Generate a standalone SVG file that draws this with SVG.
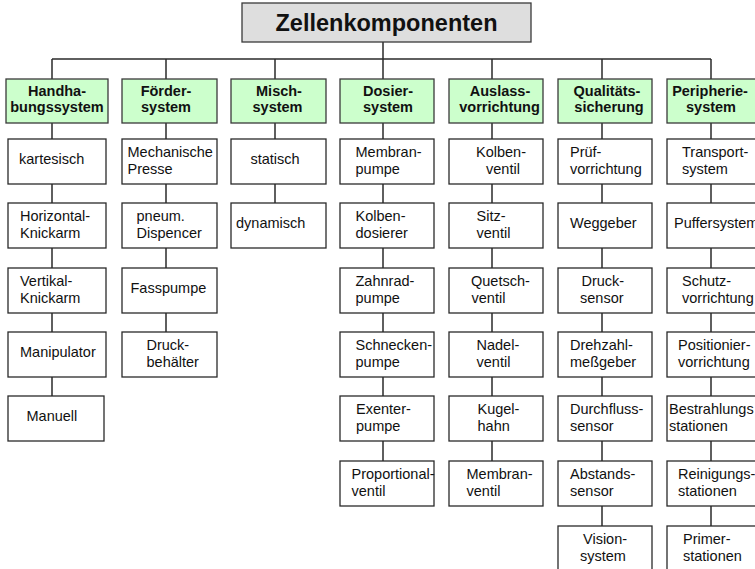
<svg xmlns="http://www.w3.org/2000/svg" width="755" height="569" viewBox="0 0 755 569">
  <style>
    .bg { fill: #ffffff; }
    .title rect { fill: #dedede; stroke: #3a3a3a; stroke-width: 1.3; }
    .title text { font-family: "Liberation Sans", Arial, sans-serif; font-weight: bold; font-size: 23.5px; fill: #111; text-anchor: middle; }
    .cat rect { fill: #ccffcc; stroke: #3a3a3a; stroke-width: 1.3; }
    .cat text { font-family: "Liberation Sans", Arial, sans-serif; font-weight: bold; font-size: 14.5px; fill: #111; text-anchor: middle; }
    .item rect { fill: #ffffff; stroke: #2a2a2a; stroke-width: 1.3; }
    .item text { font-family: "Liberation Sans", Arial, sans-serif; font-size: 14.5px; fill: #111; }
    #connectors line { stroke: #2a2a2a; stroke-width: 1.5; }
  </style>
  <rect class="bg" x="0" y="0" width="755" height="569"/>

  <!-- connectors -->
  <g id="connectors">
    <line x1="383" y1="42" x2="383" y2="59"/>
    <line x1="52" y1="59" x2="711" y2="59"/>
    <line x1="52" y1="59" x2="52" y2="79"/>
    <line x1="166" y1="59" x2="166" y2="79"/>
    <line x1="275" y1="59" x2="275" y2="79"/>
    <line x1="383" y1="59" x2="383" y2="79"/>
    <line x1="492" y1="59" x2="492" y2="79"/>
    <line x1="602" y1="59" x2="602" y2="79"/>
    <line x1="711" y1="59" x2="711" y2="79"/>
    <!-- column stems -->
    <line x1="52" y1="123" x2="52" y2="396"/>
    <line x1="166" y1="123" x2="166" y2="332"/>
    <line x1="275" y1="123" x2="275" y2="203"/>
    <line x1="383" y1="123" x2="383" y2="461"/>
    <line x1="492" y1="123" x2="492" y2="461"/>
    <line x1="602" y1="123" x2="602" y2="526"/>
    <line x1="711" y1="123" x2="711" y2="526"/>
  </g>

  <!-- root -->
  <g id="root" class="title">
    <rect x="242" y="3" width="289" height="39"/>
    <text x="386.5" y="31">Zellenkomponenten</text>
  </g>

  <!-- categories -->
  <g id="cat-handhabung" class="cat">
    <rect x="6" y="79" width="102" height="44"/>
    <text x="57" y="95.5">Handha-</text>
    <text x="57" y="112">bungssystem</text>
  </g>
  <g id="cat-foerder" class="cat">
    <rect x="122" y="79" width="95" height="44"/>
    <text x="166" y="95.5">Förder-</text>
    <text x="166" y="112">system</text>
  </g>
  <g id="cat-misch" class="cat">
    <rect x="231" y="79" width="95" height="44"/>
    <text x="279" y="95.5">Misch-</text>
    <text x="277.5" y="112">system</text>
  </g>
  <g id="cat-dosier" class="cat">
    <rect x="340" y="79" width="94" height="44"/>
    <text x="388" y="95.5">Dosier-</text>
    <text x="388" y="112">system</text>
  </g>
  <g id="cat-auslass" class="cat">
    <rect x="449" y="79" width="94" height="44"/>
    <text x="500" y="95.5">Auslass-</text>
    <text x="499.5" y="112">vorrichtung</text>
  </g>
  <g id="cat-qualitaet" class="cat">
    <rect x="558" y="79" width="94" height="44"/>
    <text x="607" y="95.5">Qualitäts-</text>
    <text x="609" y="112">sicherung</text>
  </g>
  <g id="cat-peripherie" class="cat">
    <rect x="667" y="79" width="95" height="44"/>
    <text x="710" y="95.5">Peripherie-</text>
    <text x="711" y="112">system</text>
  </g>

  <!-- Handhabungssystem -->
  <g id="h1" class="item"><rect x="8" y="139" width="98" height="45"/><text x="19" y="164">kartesisch</text></g>
  <g id="h2" class="item"><rect x="8" y="203" width="98" height="45"/><text x="20" y="220.5">Horizontal-</text><text x="20" y="237.5">Knickarm</text></g>
  <g id="h3" class="item"><rect x="8" y="268" width="98" height="45"/><text x="20" y="285.5">Vertikal-</text><text x="20" y="302.5">Knickarm</text></g>
  <g id="h4" class="item"><rect x="8" y="332" width="98" height="45"/><text x="20" y="357">Manipulator</text></g>
  <g id="h5" class="item"><rect x="8" y="396" width="96" height="45"/><text x="26.5" y="421">Manuell</text></g>

  <!-- Fördersystem -->
  <g id="f1" class="item"><rect x="122" y="139" width="95" height="45"/><text x="127.5" y="156.5">Mechanische</text><text x="127.5" y="173.5">Presse</text></g>
  <g id="f2" class="item"><rect x="122" y="203" width="95" height="45"/><text x="136.5" y="220.5">pneum.</text><text x="136.5" y="237.5">Dispencer</text></g>
  <g id="f3" class="item"><rect x="122" y="268" width="95" height="45"/><text x="130.5" y="293">Fasspumpe</text></g>
  <g id="f4" class="item"><rect x="122" y="332" width="95" height="45"/><text x="146.5" y="349.5">Druck-</text><text x="146.5" y="366.5">behälter</text></g>

  <!-- Mischsystem -->
  <g id="m1" class="item"><rect x="231" y="139" width="95" height="45"/><text x="250.5" y="164">statisch</text></g>
  <g id="m2" class="item"><rect x="231" y="203" width="95" height="45"/><text x="236" y="228">dynamisch</text></g>

  <!-- Dosiersystem -->
  <g id="d1" class="item"><rect x="340" y="139" width="94" height="45"/><text x="355.5" y="156.5">Membran-</text><text x="355.5" y="173.5">pumpe</text></g>
  <g id="d2" class="item"><rect x="340" y="203" width="94" height="45"/><text x="355.5" y="220.5">Kolben-</text><text x="355.5" y="237.5">dosierer</text></g>
  <g id="d3" class="item"><rect x="340" y="268" width="94" height="45"/><text x="355.5" y="285.5">Zahnrad-</text><text x="355.5" y="302.5">pumpe</text></g>
  <g id="d4" class="item"><rect x="340" y="332" width="94" height="45"/><text x="355.5" y="349.5">Schnecken-</text><text x="355.5" y="366.5">pumpe</text></g>
  <g id="d5" class="item"><rect x="340" y="396" width="94" height="45"/><text x="356" y="413.5">Exenter-</text><text x="356" y="430.5">pumpe</text></g>
  <g id="d6" class="item"><rect x="340" y="461" width="94" height="45"/><text x="351.5" y="478.5">Proportional-</text><text x="351.5" y="495.5">ventil</text></g>

  <!-- Auslassvorrichtung -->
  <g id="a1" class="item"><rect x="449" y="139" width="94" height="45"/><text x="476" y="156.5">Kolben-</text><text x="486" y="173.5">ventil</text></g>
  <g id="a2" class="item"><rect x="449" y="203" width="94" height="45"/><text x="476.5" y="220.5">Sitz-</text><text x="476.5" y="237.5">ventil</text></g>
  <g id="a3" class="item"><rect x="449" y="268" width="94" height="45"/><text x="471" y="285.5">Quetsch-</text><text x="471.5" y="302.5">ventil</text></g>
  <g id="a4" class="item"><rect x="449" y="332" width="94" height="45"/><text x="476.5" y="349.5">Nadel-</text><text x="476.5" y="366.5">ventil</text></g>
  <g id="a5" class="item"><rect x="449" y="396" width="94" height="45"/><text x="477.5" y="413.5">Kugel-</text><text x="477.5" y="430.5">hahn</text></g>
  <g id="a6" class="item"><rect x="449" y="461" width="94" height="45"/><text x="466.5" y="478.5">Membran-</text><text x="466.5" y="495.5">ventil</text></g>

  <!-- Qualitätssicherung -->
  <g id="q1" class="item"><rect x="558" y="139" width="94" height="45"/><text x="570" y="156.5">Prüf-</text><text x="570" y="173.5">vorrichtung</text></g>
  <g id="q2" class="item"><rect x="558" y="203" width="94" height="45"/><text x="570" y="228">Weggeber</text></g>
  <g id="q3" class="item"><rect x="558" y="268" width="94" height="45"/><text x="581.5" y="285.5">Druck-</text><text x="580" y="302.5">sensor</text></g>
  <g id="q4" class="item"><rect x="558" y="332" width="94" height="45"/><text x="570" y="349.5">Drehzahl-</text><text x="570" y="366.5">meßgeber</text></g>
  <g id="q5" class="item"><rect x="558" y="396" width="94" height="45"/><text x="570" y="413.5">Durchfluss-</text><text x="570" y="430.5">sensor</text></g>
  <g id="q6" class="item"><rect x="558" y="461" width="94" height="45"/><text x="570" y="478.5">Abstands-</text><text x="570" y="495.5">sensor</text></g>
  <g id="q7" class="item"><rect x="558" y="526" width="94" height="45"/><text x="583" y="543.5">Vision-</text><text x="580" y="560.5">system</text></g>

  <!-- Peripheriesystem -->
  <g id="p1" class="item"><rect x="667" y="139" width="95" height="45"/><text x="682" y="156.5">Transport-</text><text x="682" y="173.5">system</text></g>
  <g id="p2" class="item"><rect x="667" y="203" width="95" height="45"/><text x="674" y="228">Puffersystem</text></g>
  <g id="p3" class="item"><rect x="667" y="268" width="95" height="45"/><text x="682" y="285.5">Schutz-</text><text x="682" y="302.5">vorrichtung</text></g>
  <g id="p4" class="item"><rect x="667" y="332" width="95" height="45"/><text x="678" y="349.5">Positionier-</text><text x="678" y="366.5">vorrichtung</text></g>
  <g id="p5" class="item"><rect x="667" y="396" width="95" height="45"/><text x="669" y="413.5">Bestrahlungs</text><text x="669" y="430.5">stationen</text></g>
  <g id="p6" class="item"><rect x="667" y="461" width="95" height="45"/><text x="678" y="478.5">Reinigungs-</text><text x="678" y="495.5">stationen</text></g>
  <g id="p7" class="item"><rect x="667" y="526" width="95" height="45"/><text x="683" y="543.5">Primer-</text><text x="683" y="560.5">stationen</text></g>
</svg>
